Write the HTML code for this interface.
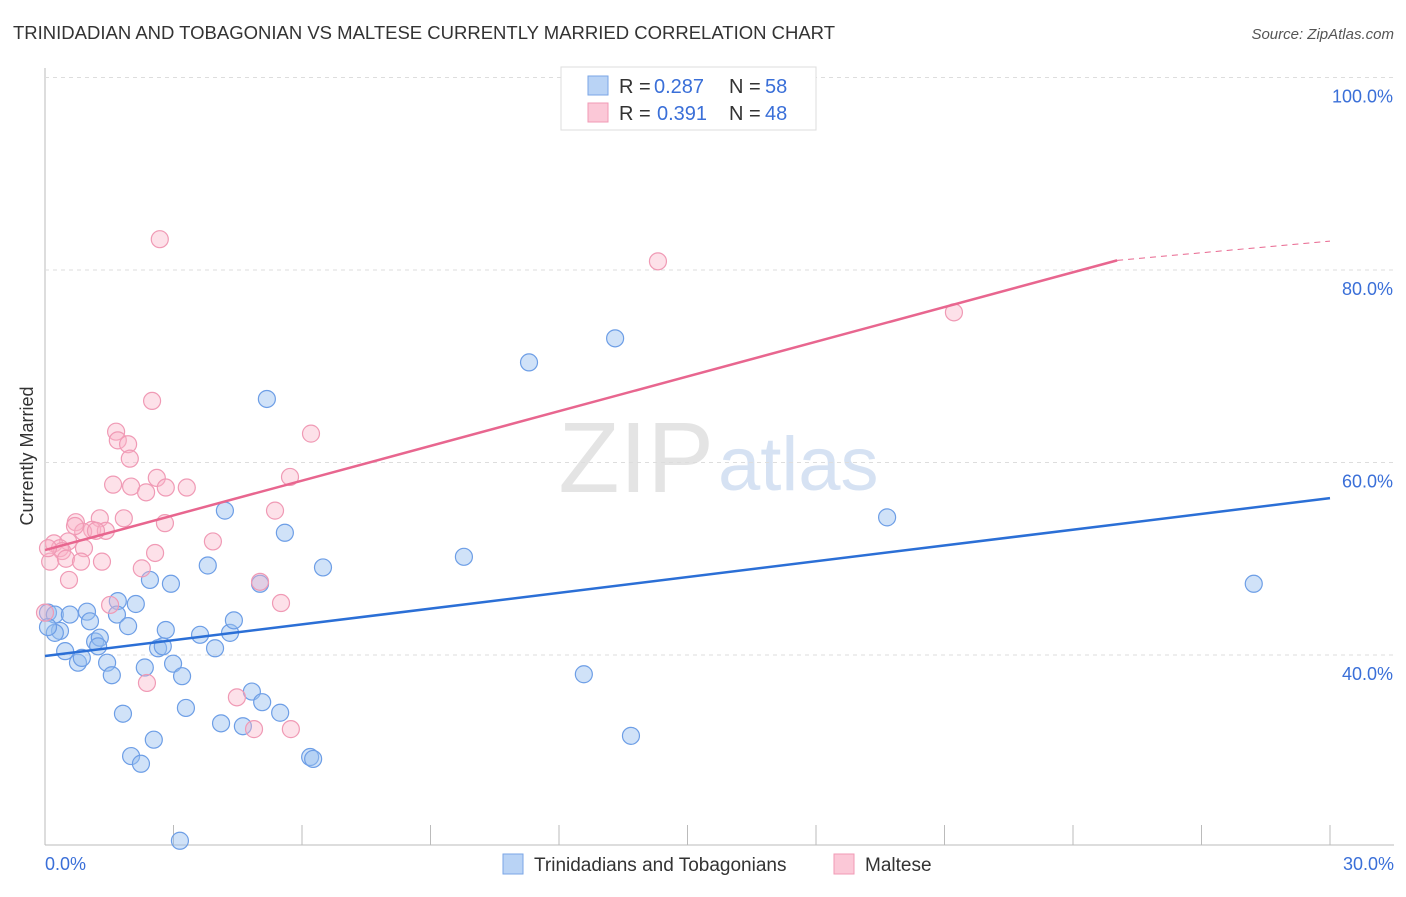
<!DOCTYPE html>
<html><head><meta charset="utf-8"><style>
body{margin:0;background:#fff;font-family:"Liberation Sans",sans-serif}
svg text{font-family:"Liberation Sans",sans-serif}
</style></head><body>
<svg id="chart" width="1406" height="892">
<text x="13" y="39" font-size="18.5" fill="#333">TRINIDADIAN AND TOBAGONIAN VS MALTESE CURRENTLY MARRIED CORRELATION CHART</text>
<text x="1394" y="39" font-size="15" fill="#555" font-style="italic" text-anchor="end">Source: ZipAtlas.com</text>
<text transform="translate(33,456) rotate(-90)" font-size="18" fill="#333" text-anchor="middle">Currently Married</text>
<text x="714" y="492" font-size="100" fill="#e4e4e4" font-family="Liberation Serif" text-anchor="end">ZIP</text>
<text x="718" y="490" font-size="76" fill="#d6e2f3">atlas</text>
<g id="grid"></g><g id="marks"></g>
<g>
<rect x="561" y="67" width="255" height="63" fill="#fff" stroke="#ddd"/>
<rect x="588" y="76" width="20" height="19" fill="#b9d3f5" stroke="#7aa6e6"/>
<rect x="588" y="103" width="20" height="19" fill="#fbc8d7" stroke="#f09ab5"/>
<text x="619" y="93" font-size="20" fill="#333">R =</text>
<text x="654" y="93" font-size="20" fill="#3a6fd8">0.287</text>
<text x="729" y="93" font-size="20" fill="#333">N =</text>
<text x="765" y="93" font-size="20" fill="#3a6fd8">58</text>
<text x="619" y="120" font-size="20" fill="#333">R =</text>
<text x="657" y="120" font-size="20" fill="#3a6fd8">0.391</text>
<text x="729" y="120" font-size="20" fill="#333">N =</text>
<text x="765" y="120" font-size="20" fill="#3a6fd8">48</text>
</g>
<g>
<rect x="503" y="854" width="20" height="20" fill="#b9d3f5" stroke="#7aa6e6"/>
<text x="534" y="871" font-size="19" fill="#333">Trinidadians and Tobagonians</text>
<rect x="834" y="854" width="20" height="20" fill="#fbc8d7" stroke="#f09ab5"/>
<text x="865" y="871" font-size="19" fill="#333">Maltese</text>
</g>
</svg>
<script>
const xTicks=[0,3,6,9,12,15,18,21,24,27,30];
const yTicks=[40,60,80,100];
const blueX=[0.07,0.23,0.58,0.98,0.35,0.23,0.47,0.77,0.86,1.05,1.17,1.28,1.24,1.45,1.56,1.7,1.68,1.94,2.12,2.45,2.94,2.82,2.64,2.75,2.33,2.99,3.2,3.29,1.82,2.01,2.24,2.54,3.62,3.97,3.8,4.2,4.32,4.41,4.11,4.62,4.83,5.07,5.02,5.49,5.18,5.6,6.49,6.19,6.26,3.15,9.78,11.3,13.31,12.58,13.68,19.66,28.22,0.07];
const blueY=[44.4,44.2,44.2,44.5,42.5,42.3,40.4,39.2,39.7,43.5,41.4,41.8,40.9,39.2,37.9,45.6,44.2,43.0,45.3,47.8,47.4,42.6,40.7,40.9,38.7,39.1,37.8,34.5,33.9,29.5,28.7,31.2,42.1,40.7,49.3,55.0,42.3,43.6,32.9,32.6,36.2,35.1,47.4,34.0,66.6,52.7,49.1,29.4,29.2,20.7,50.2,70.4,72.9,38.0,31.6,54.3,47.4,42.9];
const pinkX=[2.68,2.5,1.66,1.7,1.94,1.98,1.59,2.01,2.61,2.82,3.31,2.36,1.84,1.28,0.72,1.1,1.42,0.89,1.19,0.7,0.54,0.21,0.35,0.4,0.91,0.12,0.49,0.84,1.33,0.56,2.57,2.26,2.8,3.92,5.37,5.72,6.21,5.02,5.51,1.52,2.38,4.48,4.88,5.74,14.31,21.22,0,0.07];
const pinkY=[83.2,66.4,63.2,62.3,61.9,60.4,57.7,57.5,58.4,57.4,57.4,56.9,54.2,54.2,53.8,53.0,52.9,52.8,52.9,53.4,51.8,51.6,51.1,50.8,51.1,49.7,50.0,49.7,49.7,47.8,50.6,49.0,53.7,51.8,55.0,58.5,63.0,47.6,45.4,45.2,37.1,35.6,32.3,32.3,80.9,75.6,44.4,51.1];
const blueTrend=[39.9,56.3];
const pinkTrend=[50.9,81.0,83.0];
const pinkTrendEndX=25.03;
const L=45,R=1330,T=78,B=845;
const sx=v=>L+v/30*(R-L);
const sy=v=>1040-v*9.625;
const NS='http://www.w3.org/2000/svg';
const grid=document.getElementById('grid'),marks=document.getElementById('marks');
function mk(p,tag,a){const e=document.createElementNS(NS,tag);for(const k in a)e.setAttribute(k,a[k]);p.appendChild(e);return e;}
let ax=mk(grid,'line',{x1:L,y1:68,x2:L,y2:B,stroke:'#bbb'});


let bx=mk(grid,'line',{x1:L,y1:B,x2:1394,y2:B,stroke:'#bbb'});


yTicks.forEach(v=>{
 const g=mk(grid,'line',{x1:L,y1:sy(v),x2:1394,y2:sy(v),stroke:'#ddd','stroke-dasharray':'4,4'});
 
 
 const t=mk(grid,'text',{x:1393,y:sy(v)+25,'font-size':18,fill:'#3a6fd8','text-anchor':'end'});
 t.textContent=v.toFixed(1)+'%';
 
 
});
xTicks.forEach(v=>{
 const l=mk(grid,'line',{x1:sx(v),y1:B-20,x2:sx(v),y2:B,stroke:'#bbb'});
 
 
});
[[0,'start',45],[30,'end',1394]].forEach(([v,a,x])=>{
 const t=mk(grid,'text',{x:x,y:870,'font-size':18,fill:'#3a6fd8','text-anchor':a});
 t.textContent=v.toFixed(1)+'%';
 
 
});
blueX.forEach((x,i)=>{
 const c=mk(marks,'circle',{cx:sx(x),cy:sy(blueY[i]),r:8.5,fill:'rgba(150,190,240,0.45)',stroke:'#6d9ee6','stroke-width':1.2});
 
 
});
pinkX.forEach((x,i)=>{
 const c=mk(marks,'circle',{cx:sx(x),cy:sy(pinkY[i]),r:8.5,fill:'rgba(250,180,200,0.4)',stroke:'#f09ab5','stroke-width':1.2});
 
 
});
let bl=mk(marks,'line',{x1:sx(0),y1:sy(blueTrend[0]),x2:sx(30),y2:sy(blueTrend[1]),stroke:'#2b6fd6','stroke-width':2.5});


let pl=mk(marks,'line',{x1:sx(0),y1:sy(pinkTrend[0]),x2:sx(pinkTrendEndX),y2:sy(pinkTrend[1]),stroke:'#e8668f','stroke-width':2.5});


let pd=mk(marks,'line',{x1:sx(pinkTrendEndX),y1:sy(pinkTrend[1]),x2:sx(30),y2:sy(pinkTrend[2]),stroke:'#e8668f','stroke-width':1,'stroke-dasharray':'6,5'});


</script>
</body></html>
